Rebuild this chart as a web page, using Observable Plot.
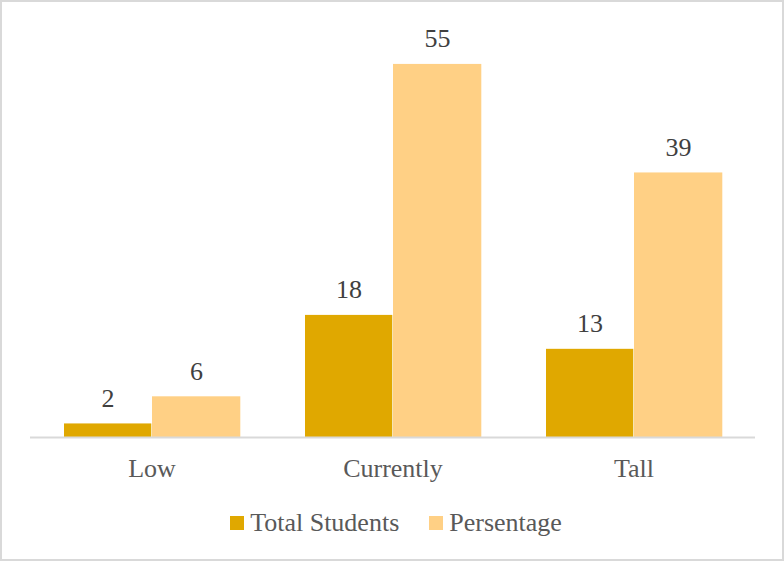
<!DOCTYPE html>
<html>
<head>
<meta charset="utf-8">
<script src="https://cdn.jsdelivr.net/npm/d3@7"></script>
<script src="https://cdn.jsdelivr.net/npm/@observablehq/plot@0.6"></script>
<style>
  html, body { margin: 0; padding: 0; background: #fff; }
  #chart {
    width: 784px; height: 561px; box-sizing: border-box;
    border: 2px solid #d9d9d9; background: #fff; overflow: hidden;
    font-family: 'Liberation Serif', serif;
  }
  #legend {
    display: flex; justify-content: center; align-items: center;
    font-family: 'Liberation Serif', serif;
    font-size: 26px; color: #595959; margin-top: 16px; margin-left: 8px;
  }
  .item { display: flex; align-items: center; margin: 0 15px; }
  .sw { width: 14px; height: 14px; margin-right: 6px; }
</style>
</head>
<body>
<div id="chart"></div>
<script>
const categories = ["Low", "Currently", "Tall"];
const seriesNames = ["Total Students", "Persentage"];
const totalStudents = [2, 18, 13];
const persentage = [6, 55, 39];
const colors = ["#E0A800", "#FFD085"];

const dataA = categories.map((c, i) => ({category: c, value: totalStudents[i]}));
const dataB = categories.map((c, i) => ({category: c, value: persentage[i]}));

const fontStack = "'Liberation Serif', serif";

const plot = Plot.plot({
  width: 780,
  height: 490,
  marginTop: 28,
  marginBottom: 55,
  marginLeft: 28,
  marginRight: 27,
  style: {fontFamily: fontStack, fontSize: "26px", color: "#595959", background: "#fff"},
  x: {domain: categories, padding: 0, label: null, tickSize: 0, tickPadding: 21},
  y: {domain: [0, 60], axis: null},
  marks: [
    Plot.barY(dataA, {x: "category", y: "value", fill: colors[0], insetLeft: 33, insetRight: 120.7}),
    Plot.barY(dataB, {x: "category", y: "value", fill: colors[1], insetLeft: 121, insetRight: 31.7}),
    Plot.ruleY([0], {stroke: "#d9d9d9", strokeWidth: 2}),
    Plot.text(dataA, {x: "category", y: "value", text: d => String(d.value), dx: -44, dy: -17, lineAnchor: "bottom", fill: "#404040", fontSize: 26}),
    Plot.text(dataB, {x: "category", y: "value", text: d => String(d.value), dx: 44.5, dy: -17, lineAnchor: "bottom", fill: "#404040", fontSize: 26})
  ]
});

const chart = document.getElementById("chart");
chart.appendChild(plot);
const legend = document.createElement("div");
legend.id = "legend";
seriesNames.forEach((name, i) => {
  const item = document.createElement("div");
  item.className = "item";
  const sw = document.createElement("span");
  sw.className = "sw";
  sw.style.background = colors[i];
  const label = document.createElement("span");
  label.textContent = name;
  item.appendChild(sw);
  item.appendChild(label);
  legend.appendChild(item);
});
chart.appendChild(legend);
</script>
</body>
</html>
